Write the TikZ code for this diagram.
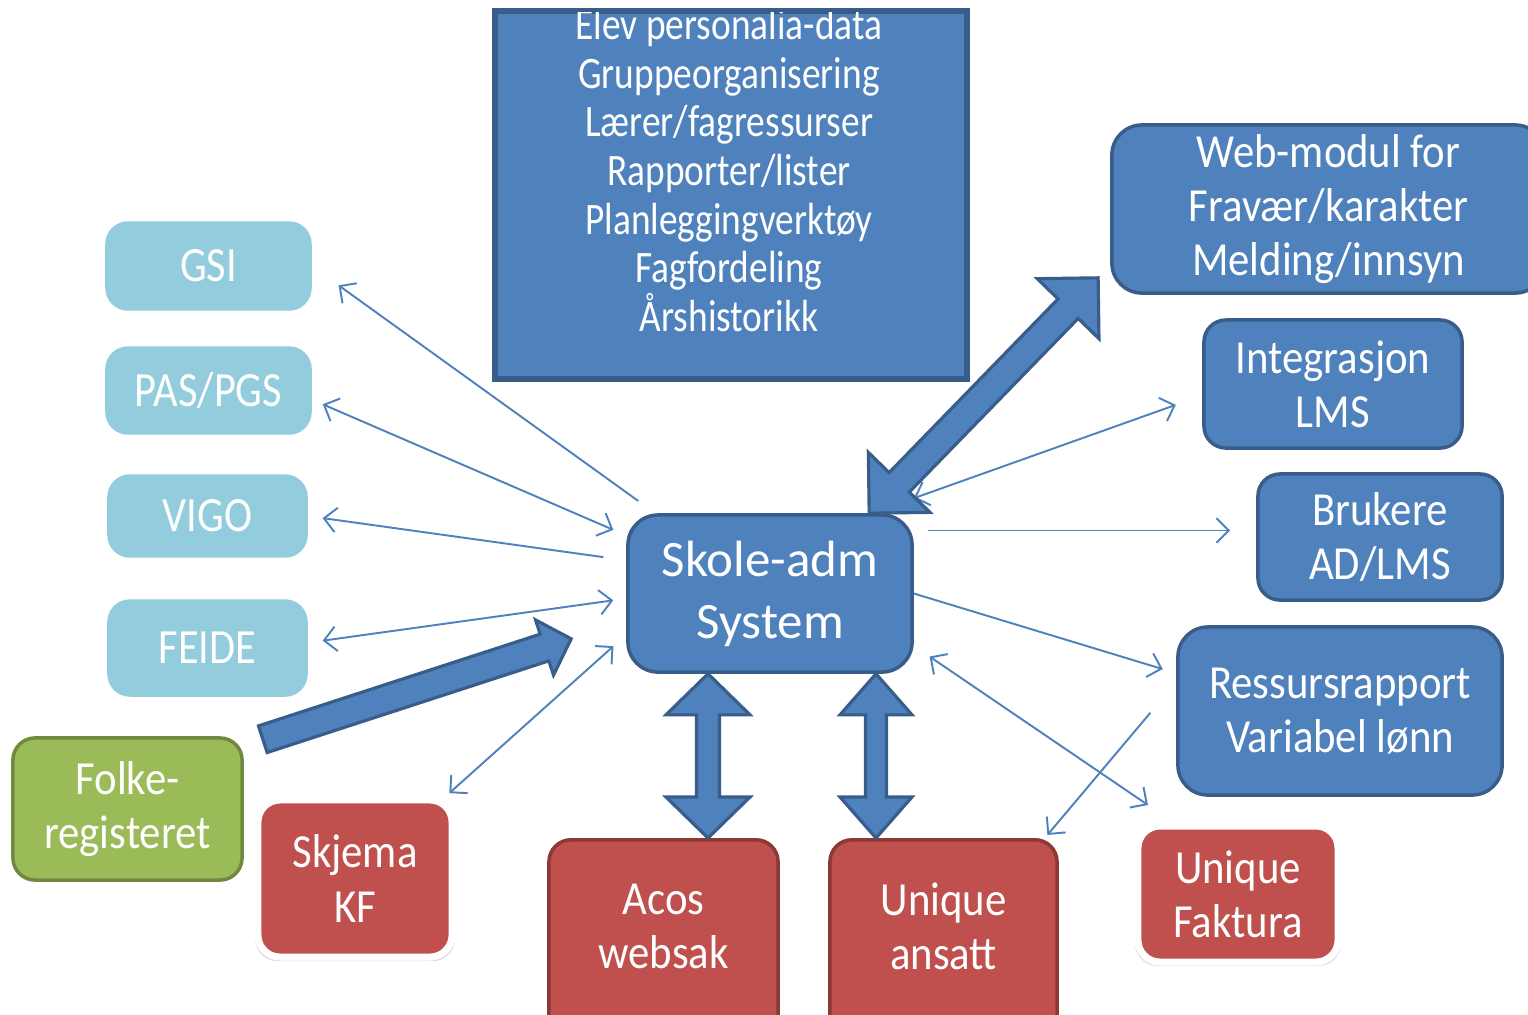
\documentclass[tikz,border=0pt]{standalone}
\usepackage{fontspec}
\setmainfont{Carlito}
\newfontfamily\boxfont{Carlito}[FakeStretch=0.9]
\newfontfamily\aquafont{Carlito}[FakeStretch=0.86]
\newfontfamily\topfont{Carlito}[FakeStretch=0.83]
\usepackage{tikz}
\usetikzlibrary{calc,arrows.meta,shadows}

\definecolor{boxblue}{HTML}{4F81BD}
\definecolor{boxblueline}{HTML}{385D8A}
\definecolor{aqua}{HTML}{93CDDD}
\definecolor{leaf}{HTML}{9BBB59}
\definecolor{leafline}{HTML}{71893F}
\definecolor{brick}{HTML}{C0504D}
\definecolor{brickline}{HTML}{8C3836}

\tikzset{
  basebox/.style={rounded corners=0.22cm, text=white, align=center, inner sep=0pt,
    font=\boxfont\fontsize{13.5}{15.4}\selectfont},
  aquabox/.style={basebox, fill=aqua, draw=aqua, font=\aquafont\fontsize{14}{16}\selectfont},
  greenbox/.style={basebox, fill=leaf, draw=leafline, line width=1pt},
  redbox/.style={basebox, fill=brick, draw=brickline, line width=1pt},
  redglow/.style={basebox, fill=brick, draw=white, line width=2pt,
    drop shadow={shadow xshift=0pt, shadow yshift=-0.5pt, shadow scale=1.03, opacity=0.3}},
  bluebox/.style={basebox, fill=boxblue, draw=boxblueline, line width=1pt},
  boxtext/.style={text=white, align=center, inner sep=0pt, font=\boxfont\fontsize{13.5}{15.4}\selectfont},
  thinline/.style={draw=boxblue, line width=0.55pt},
  bigarrow/.style={fill=boxblue, draw=boxblueline, line width=0.9pt, line join=miter}
}

% #1 end, #2 end, #3 half shaft, #4 half head, #5 head length
\newcommand{\bidirarrow}[5]{%
  \path (#1) coordinate (ba-a) (#2) coordinate (ba-b);
  \path ($(ba-a)!#5!(ba-b)$) coordinate (ba-a1) ($(ba-b)!#5!(ba-a)$) coordinate (ba-b1);
  \filldraw[bigarrow] (ba-a) -- ($(ba-a1)!#4!90:(ba-b)$) -- ($(ba-a1)!#3!90:(ba-b)$)
    -- ($(ba-b1)!#3!-90:(ba-a)$) -- ($(ba-b1)!#4!-90:(ba-a)$) -- (ba-b)
    -- ($(ba-b1)!#4!90:(ba-a)$) -- ($(ba-b1)!#3!90:(ba-a)$)
    -- ($(ba-a1)!#3!-90:(ba-b)$) -- ($(ba-a1)!#4!-90:(ba-b)$) -- cycle;
}
\newcommand{\onewayarrow}[5]{%
  \path (#1) coordinate (ba-a) (#2) coordinate (ba-b);
  \path ($(ba-b)!#5!(ba-a)$) coordinate (ba-b1);
  \filldraw[bigarrow] ($(ba-a)!#3!90:(ba-b)$) -- ($(ba-b1)!#3!-90:(ba-a)$)
    -- ($(ba-b1)!#4!-90:(ba-a)$) -- (ba-b) -- ($(ba-b1)!#4!90:(ba-a)$)
    -- ($(ba-b1)!#3!90:(ba-a)$) -- ($(ba-a)!#3!-90:(ba-b)$) -- cycle;
}

\begin{document}
\begin{tikzpicture}[x=0.01cm, y=-0.01cm, >={Straight Barb[length=3.5pt,width=7pt]}]
\useasboundingbox (0,0) rectangle (1528,1014);

% left column
\node[aquabox, minimum width=2.05cm, minimum height=0.88cm] (gsi) at (208.5,266) {GSI};
\node[aquabox, minimum width=2.05cm, minimum height=0.87cm] (pas) at (208.5,390.5) {PAS/PGS};
\node[aquabox, minimum width=1.99cm, minimum height=0.82cm] (vigo) at (207.5,516) {VIGO};
\node[aquabox, minimum width=1.99cm, minimum height=0.96cm] (feide) at (207.5,648) {FEIDE};
\node[greenbox, minimum width=2.29cm, minimum height=1.42cm] (folke) at (127.5,809) {Folke-\\registeret};

% bottom row
\node[redglow, minimum width=1.94cm, minimum height=1.57cm] (skjema) at (355,878.5) {Skjema\\KF};
\node[redbox, minimum width=2.29cm, minimum height=2.2cm, anchor=north] (acos) at (663.5,838) {};
\node[boxtext] (acos-txt) at ($(acos.north)+(0,88)$) {Acos\\websak};
\node[redbox, minimum width=2.27cm, minimum height=2.2cm, anchor=north] (ans) at (943.5,838) {};
\node[boxtext] (ans-txt) at ($(ans.north)+(0,88)$) {Unique\\ansatt};
\node[redglow, minimum width=2.00cm, minimum height=1.36cm] (fak) at (1238,894) {Unique\\Faktura};

% centre and top
\node[bluebox, rounded corners=0.3cm, minimum width=2.84cm, minimum height=1.57cm,
  font=\fontsize{14.5}{17.6}\selectfont] (sys) at (770,593.5) {Skole-adm\\System};
\node[bluebox, rounded corners=0pt, minimum width=4.70cm, minimum height=3.66cm] (top) at (731,195) {};
\begin{scope}
  \clip (top.north west) rectangle (top.south east);
  \node[boxtext, font=\topfont\fontsize{12.8}{13.85}\selectfont] (top-txt) at (729,170)
    {Elev personalia-data\\Gruppeorganisering\\Lærer/fagressurser\\Rapporter/lister\\Planleggingverktøy\\Fagfordeling\\Årshistorikk};
\end{scope}
\draw[boxblueline, line width=1pt] (top.north west) rectangle (top.south east);

% right column
\node[bluebox, rounded corners=0.3cm, minimum width=4.33cm, minimum height=1.68cm] (web) at (1328.5,209) {Web-modul for\\Fravær/karakter\\Melding/innsyn};
\node[bluebox, minimum width=2.58cm, minimum height=1.28cm] (int) at (1333,384) {Integrasjon\\LMS};
\node[bluebox, minimum width=2.44cm, minimum height=1.26cm] (bru) at (1380,537) {Brukere\\AD/LMS};
\node[bluebox, rounded corners=0.3cm, minimum width=3.24cm, minimum height=1.68cm] (res) at (1340,711) {Ressursrapport\\Variabel lønn};

% thin connectors
\draw[thinline, <-, shorten <=0.33cm, shorten >=0.21cm] (gsi.east) -- (sys.145);
\draw[thinline, <->, shorten <=0.12cm, shorten >=0.14cm] (pas.-5) -- (sys.158);
\draw[thinline, <-, shorten <=0.15cm, shorten >=0.23cm] (vigo.east) -- (sys.167);
\draw[thinline, <->, shorten <=0.15cm, shorten >=0.13cm] (feide.3) -- (sys.182);
\draw[thinline, <->, shorten <=0.05cm, shorten >=0.17cm] ([xshift=-0.1cm]skjema.north east) -- (sys.196);
\draw[thinline, <->, shorten >=0.28cm] ([yshift=0.15cm]sys.north east) -- (int.185);
\draw[thinline, ->, shorten <=0.14cm, shorten >=0.26cm] (sys.east |- bru.177) -- (bru.177);
\draw[thinline, ->, shorten >=0.14cm] (sys.east) -- (res.167);
\draw[thinline, <->, shorten <=0.19cm, shorten >=0.31cm] (sys.-20) -- (fak.132);
\draw[thinline, ->, shorten <=0.40cm, shorten >=0.04cm] (res.170) -- ([xshift=-0.14cm]ans.north east);

% block arrows
\coordinate (web-low) at (sys.39);
\coordinate (web-high) at ($(web.south west)+(-12,-17)$);
\bidirarrow{web-low}{web-high}{0.14cm}{0.43cm}{0.43cm}
\coordinate (acos-up) at ($(sys.south)+(-62,0)$);
\coordinate (acos-down) at (acos-up |- acos.north);
\bidirarrow{acos-up}{acos-down}{0.115cm}{0.42cm}{0.41cm}
\coordinate (ans-up) at ($(sys.south)+(106,0)$);
\coordinate (ans-down) at (ans-up |- ans.north);
\bidirarrow{ans-up}{ans-down}{0.105cm}{0.36cm}{0.41cm}
\coordinate (folke-tail) at ($(folke.north east)+(19,3)$);
\coordinate (folke-tip) at ($(sys.south west)+(-55,-35)$);
\onewayarrow{folke-tail}{folke-tip}{0.14cm}{0.29cm}{0.28cm}
\end{tikzpicture}
\end{document}
